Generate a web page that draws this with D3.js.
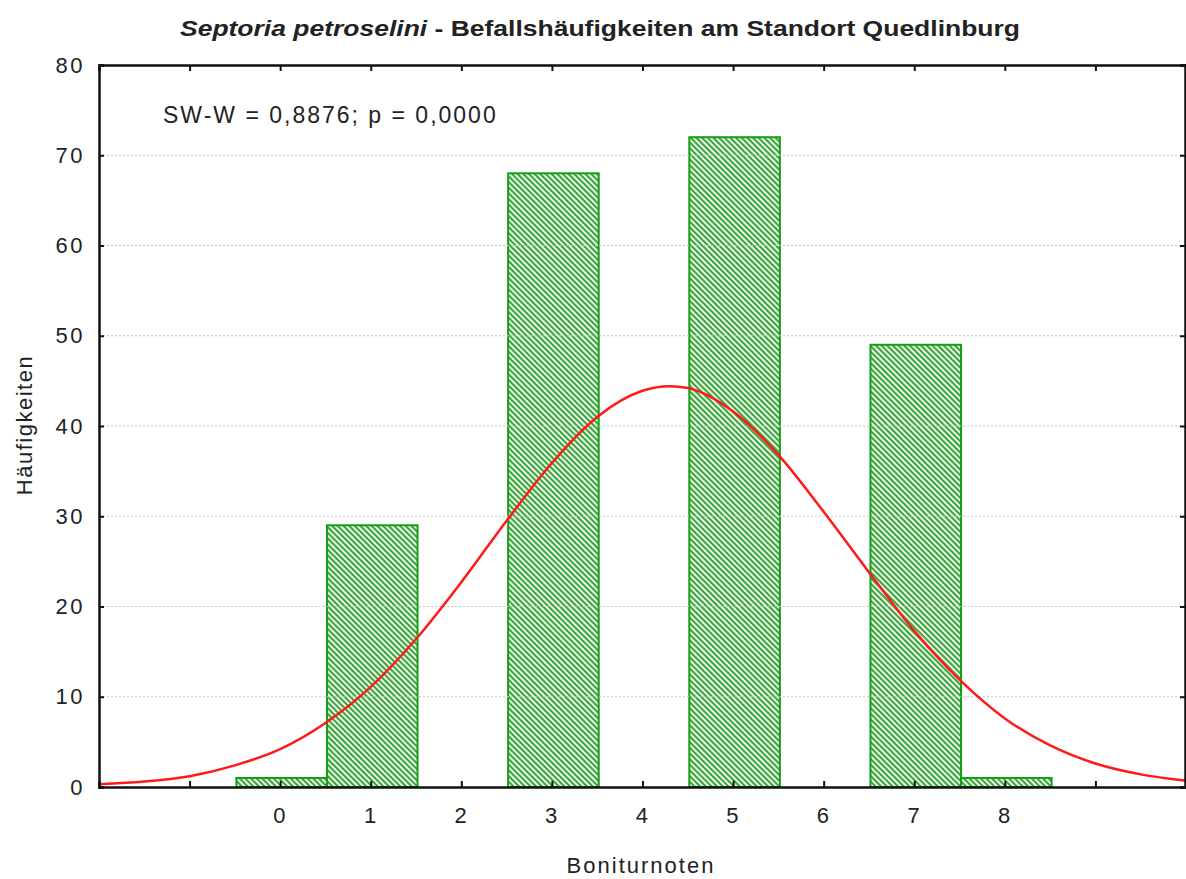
<!DOCTYPE html>
<html>
<head>
<meta charset="utf-8">
<script src="https://cdn.jsdelivr.net/npm/d3@7"></script>
<style>
  html, body { margin: 0; padding: 0; background: #fff; }
  svg { display: block; font-family: "Liberation Sans", Arial, sans-serif; }
</style>
</head>
<body>
<svg id="chart" width="1186" height="879"></svg>
<script>
// ---- data ----
const categories = [0, 1, 2, 3, 4, 5, 6, 7, 8];
const counts     = [1, 29, 0, 68, 0, 72, 0, 49, 1];
const xTickValues = [-1, 0, 1, 2, 3, 4, 5, 6, 7, 8, 9];
const xTickLabels = ["", "0", "1", "2", "3", "4", "5", "6", "7", "8", ""];
const yTickValues = [0, 10, 20, 30, 40, 50, 60, 70, 80];
// fitted normal curve
const curveX = [-2, -1.5, -1, -0.5, 0, 0.5, 1, 1.5, 2, 2.5, 3, 3.5, 4, 4.3, 4.5, 5, 5.5, 6, 6.5, 7, 7.5, 8, 8.5, 9, 9.5, 10];
const curveY = [0.3, 0.6, 1.2, 2.4, 4.2, 7.1, 11.1, 16.4, 22.7, 29.5, 35.9, 41.0, 43.9, 44.4, 44.2, 41.6, 36.8, 30.5, 23.8, 17.3, 11.9, 7.6, 4.6, 2.6, 1.4, 0.7];
const titleItalic = "Septoria petroselini";
const titleRest = " - Befallshäufigkeiten am Standort Quedlinburg";
const statText = "SW-W = 0,8876; p = 0,0000";
const xLabel = "Boniturnoten";
const yLabel = "Häufigkeiten";

(function () {
// ---- layout ----
const svg = d3.select("#chart");
const L = 99, R = 1186, T = 65, B = 787;
const x = d3.scaleLinear().domain([-2, 10]).range([L, R]);
const y = d3.scaleLinear().domain([0, 80]).range([B, T]);
const textColor = "#222";

// hatch pattern ("\" direction)
const defs = svg.append("defs");
const pat = defs.append("pattern")
  .attr("id", "hatch").attr("patternUnits", "userSpaceOnUse")
  .attr("width", 4).attr("height", 4)
  .attr("patternTransform", "rotate(45)");
pat.append("rect").attr("width", 4).attr("height", 4).attr("fill", "#e9f6e9");
pat.append("rect").attr("width", 4).attr("height", 2).attr("fill", "#3aa63a");

// bars
svg.append("g").selectAll("rect")
  .data(categories.map((c, i) => ({c, v: counts[i]})).filter(d => d.v > 0))
  .join("rect")
  .attr("x", d => x(d.c - 0.5) + 1.5)
  .attr("width", d => x(d.c + 0.5) - x(d.c - 0.5))
  .attr("y", d => y(d.v))
  .attr("height", d => y(0) - y(d.v))
  .attr("fill", "url(#hatch)")
  .attr("stroke", "#14a014")
  .attr("stroke-width", 2);

// grid lines (drawn over bars, light)
svg.append("g").selectAll("line")
  .data(yTickValues.filter(v => v > 0 && v < 80))
  .join("line")
  .attr("x1", L).attr("x2", R)
  .attr("y1", d => y(d)).attr("y2", d => y(d))
  .attr("stroke", "#c4c4c4").attr("stroke-width", 1)
  .attr("stroke-dasharray", "2,2");

// curve
svg.append("path")
  .datum(curveX.map((v, i) => [v, curveY[i]]))
  .attr("d", d3.line().x(d => x(d[0])).y(d => y(d[1])).curve(d3.curveMonotoneX))
  .attr("fill", "none")
  .attr("stroke", "#ff1a1a")
  .attr("stroke-width", 2.5);

// axes
const axisFont = g => g.selectAll("text")
  .attr("font-size", 22).attr("fill", textColor)
  .attr("letter-spacing", 2.5)
  .attr("font-family", "'Liberation Sans', Arial, sans-serif");

const axB = svg.append("g").attr("transform", `translate(0,${B})`)
  .call(d3.axisBottom(x).tickValues(xTickValues)
    .tickFormat((d, i) => xTickLabels[i]).tickSize(-6).tickPadding(20));
axB.call(axisFont);
const axT = svg.append("g").attr("transform", `translate(0,${T})`)
  .call(d3.axisTop(x).tickValues(xTickValues).tickFormat("").tickSize(-6));
const axL = svg.append("g").attr("transform", `translate(${L},0)`)
  .call(d3.axisLeft(y).tickValues(yTickValues).tickSize(-5).tickPadding(14));
axL.call(axisFont);
const axR = svg.append("g").attr("transform", `translate(${R - 1},0)`)
  .call(d3.axisRight(y).tickValues(yTickValues).tickFormat("").tickSize(-5));
[axB, axT, axL, axR].forEach(g => {
  g.selectAll(".tick line").attr("stroke", "#111").attr("stroke-width", 2);
  g.select(".domain").attr("stroke", "#111").attr("stroke-width", 2.5);
});

// title
const title = svg.append("text")
  .attr("x", 600).attr("y", 36)
  .attr("text-anchor", "middle")
  .attr("font-size", 22).attr("font-weight", "bold").attr("fill", textColor)
  .attr("textLength", 840).attr("lengthAdjust", "spacingAndGlyphs");
title.append("tspan").attr("font-style", "italic").text(titleItalic);
title.append("tspan").text(titleRest);

// statistic annotation
svg.append("text")
  .attr("x", 163).attr("y", 123)
  .attr("font-size", 23).attr("fill", textColor)
  .attr("letter-spacing", 2)
  .text(statText);

// axis labels
svg.append("text")
  .attr("x", 641).attr("y", 873)
  .attr("text-anchor", "middle")
  .attr("font-size", 22).attr("fill", textColor)
  .attr("letter-spacing", 2)
  .text(xLabel);
svg.append("text")
  .attr("transform", "translate(32,425) rotate(-90)")
  .attr("text-anchor", "middle")
  .attr("font-size", 22).attr("fill", textColor)
  .attr("letter-spacing", 1.5)
  .text(yLabel);
})();
</script>
</body>
</html>
